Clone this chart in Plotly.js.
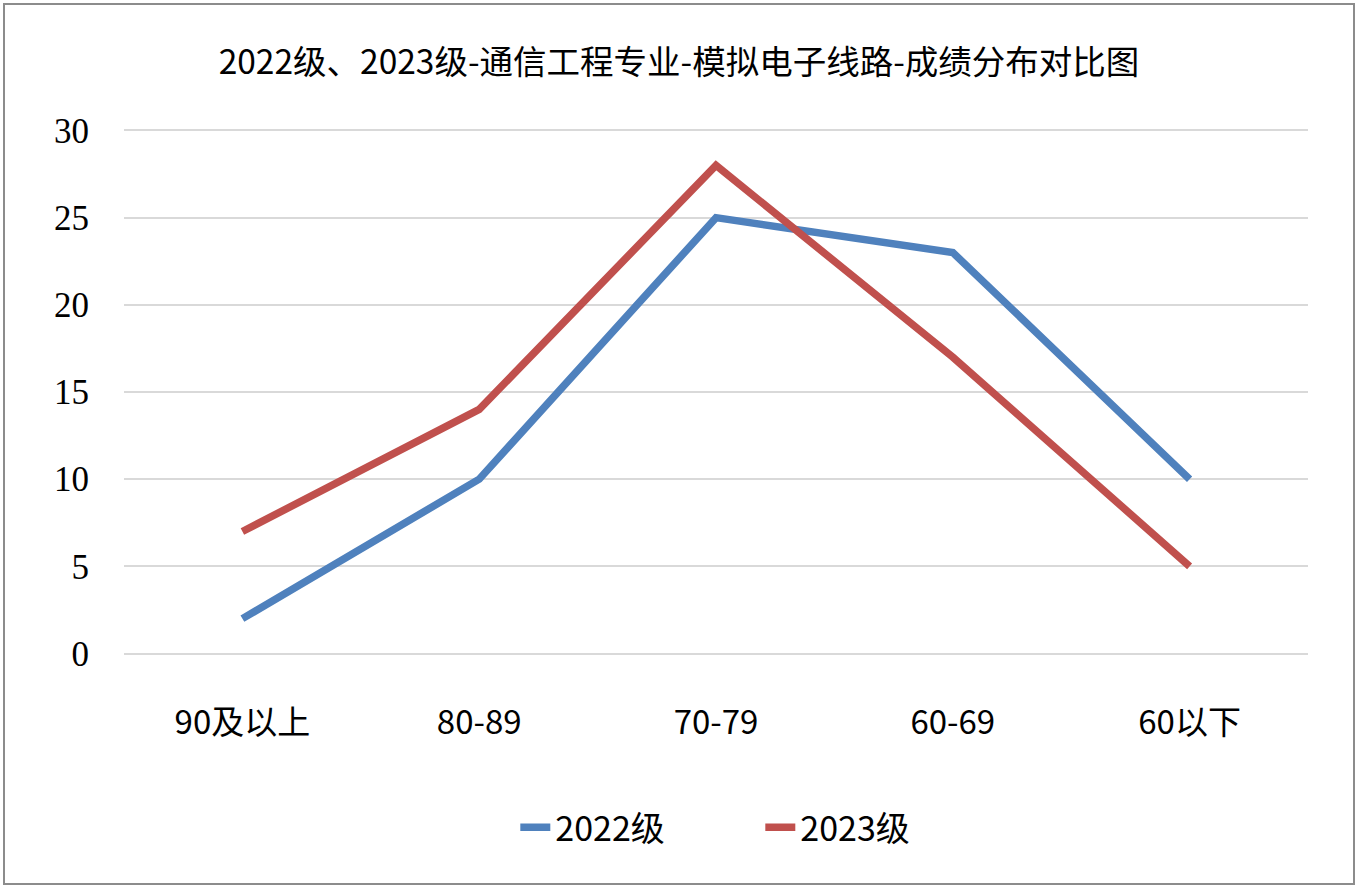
<!DOCTYPE html>
<html>
<head>
<meta charset="utf-8">
<script src="https://cdn.plot.ly/plotly-3.0.1.min.js"></script>
<style>
html,body{margin:0;padding:0;background:#fff;}
#wrap{position:absolute;left:3px;top:3px;width:1352px;height:882px;border:2px solid #8c8c8c;box-sizing:border-box;}
#chart{position:absolute;left:0;top:0;width:1358px;height:891px;}
</style>
</head>
<body>
<div id="chart"></div>
<div id="wrap"></div>
<script>
const categories = ['90及以上', '80-89', '70-79', '60-69', '60以下'];
const series2022 = [2, 10, 25, 23, 10];
const series2023 = [7, 14, 28, 17, 5];
const yTicks = [0, 5, 10, 15, 20, 25, 30];

const traces = [
  {x: categories, y: series2022, name: '2022级', type: 'scatter', mode: 'lines',
   line: {color: '#4F81BD', width: 7.5}},
  {x: categories, y: series2023, name: '2023级', type: 'scatter', mode: 'lines',
   line: {color: '#C0504D', width: 7.5}}
];

const layout = {
  width: 1358, height: 891,
  paper_bgcolor: '#ffffff', plot_bgcolor: '#ffffff',
  margin: {l: 124, r: 50, t: 127, b: 234},
  title: {text: '2022级、2023级-通信工程专业-模拟电子线路-成绩分布对比图',
          font: {family: 'Noto Sans CJK SC', size: 33.5, color: '#000'},
          x: 0.5, xanchor: 'center', y: 0.93, yanchor: 'middle'},
  xaxis: {type: 'category', range: [-0.5, 4.5], showgrid: false, zeroline: false,
          showline: false, ticks: '', ticklabelstandoff: 43,
          tickfont: {family: 'Noto Sans CJK SC', size: 33, color: '#000'}},
  yaxis: {range: [-0.2, 30.2], tickvals: yTicks, showgrid: true, gridcolor: '#D9D9D9', gridwidth: 2,
          zeroline: false, showline: false, ticks: '', ticklabelstandoff: 34,
          tickfont: {family: 'Liberation Serif', size: 35, color: '#000'}},
  showlegend: true,
  legend: {orientation: 'h', x: 0.3305, xanchor: 'left', y: -0.322, yanchor: 'middle',
           font: {family: 'Noto Sans CJK SC', size: 34, color: '#000'},
           entrywidth: 200, entrywidthmode: 'pixels', traceorder: 'normal'},
  hovermode: false
};

Plotly.newPlot('chart', traces, layout, {displayModeBar: false, staticPlot: true});
</script>
</body>
</html>
